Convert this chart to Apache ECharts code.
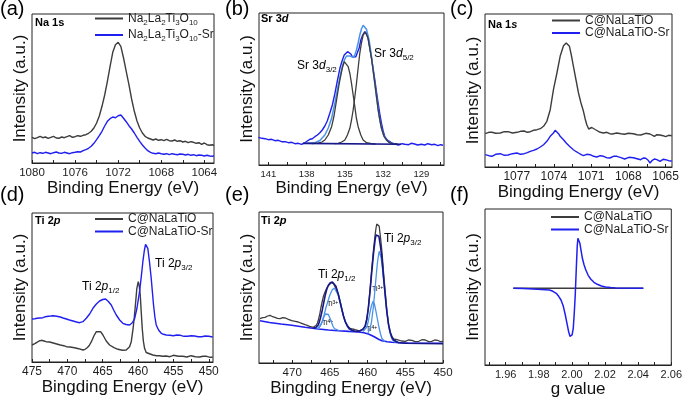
<!DOCTYPE html>
<html>
<head>
<meta charset="utf-8">
<script src="https://cdn.jsdelivr.net/npm/echarts@6/dist/echarts.min.js"></script>
<style>
  html, body { margin: 0; padding: 0; background: #fff; }
  #chart { width: 685px; height: 399px; }
</style>
</head>
<body>
<div id="chart"></div>
<script>
  // ---- data (x = binding energy / g value, y = intensity a.u.) ----
  const aPristine = [[1080,25.7],[1079.75,24.3],[1079.5,25.3],[1079.25,26.7],[1079,25.3],[1078.75,26],[1078.5,24.7],[1078.25,25.7],[1078,26.7],[1077.75,25],[1077.5,24.7],[1077.25,26],[1077,25.3],[1076.75,26.3],[1076.5,27.3],[1076.25,25.7],[1076,26.3],[1075.75,27.3],[1075.5,26.7],[1075.25,27.7],[1075,28.3],[1074.75,29.7],[1074.5,31.7],[1074.25,35],[1074,40],[1073.75,47],[1073.5,56.7],[1073.25,68],[1073,81.7],[1072.75,96.7],[1072.5,110.7],[1072.25,118.3],[1072,120.7],[1071.75,116.7],[1071.5,105],[1071.25,91.7],[1071,78.3],[1070.75,64],[1070.5,51.7],[1070.25,42],[1070,35],[1069.75,30],[1069.5,26.7],[1069.25,25],[1069,24],[1068.75,23],[1068.5,24],[1068.25,22.7],[1068,23.3],[1067.75,22.3],[1067.5,23.7],[1067.25,22.3],[1067,22],[1066.75,23],[1066.5,21.7],[1066.25,22.3],[1066,21],[1065.75,21.7],[1065.5,20.3],[1065.25,21.3],[1065,20.7],[1064.75,19.7],[1064.5,20.3],[1064.25,18.7],[1064,20],[1063.75,18.3],[1063.5,17.7],[1063.25,18.3],[1063.1,17.3]];
  const aSr = [[1080,10],[1079.75,10.7],[1079.5,9.3],[1079.25,10.3],[1079,9.7],[1078.75,10.7],[1078.5,10],[1078.25,9.3],[1078,10.3],[1077.75,11],[1077.5,10],[1077.25,9.7],[1077,10.7],[1076.75,10],[1076.5,9.3],[1076.25,10.3],[1076,10.7],[1075.75,11.3],[1075.5,11],[1075.25,12.3],[1075,13.3],[1074.75,14.7],[1074.5,16.7],[1074.25,19.7],[1074,23.3],[1073.75,27.3],[1073.5,31.7],[1073.25,37],[1073,41.7],[1072.75,44.3],[1072.5,46],[1072.25,45.3],[1072,47.3],[1071.75,48],[1071.5,44.7],[1071.25,41.3],[1071,37.3],[1070.75,34],[1070.5,30],[1070.25,25.7],[1070,21.7],[1069.75,18],[1069.5,15],[1069.25,12.3],[1069,10.7],[1068.75,9.7],[1068.5,9.3],[1068.25,10],[1068,9.3],[1067.75,8.7],[1067.5,9.3],[1067.25,8.3],[1067,9.3],[1066.75,8.7],[1066.5,8.3],[1066.25,9],[1066,8.7],[1065.75,8],[1065.5,8.7],[1065.25,7.7],[1065,8.3],[1064.75,7.3],[1064.5,8],[1064.25,7.7],[1064,7],[1063.75,7.7],[1063.5,7],[1063.25,6.7],[1063.1,7.3]];

  const bRaw = [[141.78,27.7],[141.5,26.7],[141.26,26.3],[141.0,25.3],[140.74,25.7],[140.48,24.3],[140.22,24.7],[139.95,23.3],[139.69,23.3],[139.43,22.3],[139.17,22.7],[138.91,21.3],[138.65,21.7],[138.39,20.7],[138.13,22.3],[137.95,24],[137.74,25.7],[137.55,26.3],[137.35,28.3],[137.15,30],[136.96,32.3],[136.77,35],[136.57,39],[136.38,44],[136.18,51.7],[135.98,60],[135.78,71.7],[135.59,84],[135.39,96.7],[135.22,104],[135.05,110],[134.92,112],[134.79,113.3],[134.66,112.3],[134.53,111],[134.4,108],[134.27,107.7],[134.14,108.3],[134.01,110],[133.88,117],[133.75,125],[133.6,130],[133.44,133.3],[133.3,131],[133.18,126.7],[133.05,117],[132.91,106.7],[132.78,96],[132.65,85],[132.52,73],[132.39,61.7],[132.26,51],[132.13,41.7],[132.0,34],[131.87,28.3],[131.68,25],[131.48,23.3],[131.29,21.7],[131.09,21],[130.8,20],[130.5,21.3],[130.31,20.7],[130.0,20.3],[129.8,21.7],[129.53,21],[129.3,20],[129.0,20.7],[128.74,20],[128.5,21.3],[128.2,20.3],[127.96,20.7],[127.7,19.3],[127.5,20.3],[127.31,19.7]];
  const bFit = [[138.13,21.7],[137.74,22],[137.35,22.3],[136.96,24.5],[136.57,30],[136.3,37],[136.04,46.7],[135.78,62],[135.52,80],[135.3,93],[135.13,101.7],[135.0,106],[134.87,109],[134.74,109.5],[134.61,109],[134.48,108],[134.35,107.7],[134.22,110],[134.09,115],[133.96,122],[133.83,130],[133.7,136],[133.57,139.7],[133.44,139],[133.31,135.7],[133.1,125],[132.91,108.3],[132.72,88],[132.52,68.3],[132.33,50],[132.13,36.7],[131.94,29],[131.74,25],[131.55,22.7],[131.35,21.7],[131.1,21.2],[130.83,21]];
  const bD32 = [[137.6,21.5],[137.09,21.9],[136.8,23],[136.57,25],[136.3,30],[136.04,38.3],[135.85,49],[135.65,65],[135.5,77],[135.39,85],[135.2,97],[135.05,103.3],[134.9,102.5],[134.74,98.3],[134.6,91],[134.48,81.7],[134.35,70],[134.22,58.3],[134.1,47],[133.96,38.3],[133.75,30],[133.57,25],[133.3,22.3],[132.91,21.3],[132.6,21]];
  const bD52 = [[135.8,21.3],[135.52,21.7],[135.25,23],[135.0,25],[134.8,30],[134.61,36.7],[134.48,45],[134.35,55],[134.22,68],[134.09,81.7],[133.96,97],[133.83,111.7],[133.7,122],[133.57,130],[133.39,133],[133.18,126.7],[133.05,117],[132.91,106.7],[132.78,94],[132.65,81.7],[132.52,68],[132.39,55],[132.26,45],[132.13,36.7],[131.94,29],[131.74,25],[131.5,22.3],[131.22,21.2],[130.9,21]];
  const bBase = [[138.3,21.6],[130.6,20.8]];

  const cPristine = [[1079.54,33.3],[1079.25,34.7],[1079.0,34.7],[1078.7,33.7],[1078.33,34],[1078.0,35.3],[1077.7,35.3],[1077.35,34],[1076.98,34.7],[1076.7,35.7],[1076.4,36],[1076.15,34.7],[1075.91,35.3],[1075.65,36.7],[1075.37,37.3],[1075.1,38.3],[1074.84,40.7],[1074.57,45.7],[1074.3,57.3],[1074.04,77.3],[1073.76,94],[1073.5,110.7],[1073.23,121.3],[1073.01,124],[1072.75,120.7],[1072.6,112],[1072.43,100.7],[1072.22,87],[1072.02,74],[1071.82,64],[1071.62,55.7],[1071.48,48],[1071.35,42.3],[1071.2,38],[1071.08,36.7],[1070.95,39.5],[1070.82,40.7],[1070.68,37.5],[1070.54,35.7],[1070.27,34.7],[1070.0,34],[1069.74,34.7],[1069.5,33.3],[1069.3,33],[1068.93,34],[1068.6,33.3],[1068.3,32.7],[1068.0,33.7],[1067.6,33.3],[1067.3,32.3],[1067.0,32],[1066.6,33.7],[1066.25,33],[1065.9,30.7],[1065.7,32.3],[1065.45,32],[1065.2,31.3],[1065.0,30.3],[1064.75,31.7],[1064.5,31.3]];
  const cSr = [[1079.54,12.3],[1079.25,11.3],[1079.0,10.7],[1078.7,12.7],[1078.33,13.3],[1078.0,11.7],[1077.7,12],[1077.35,13.3],[1076.98,14],[1076.7,12.7],[1076.4,13.3],[1076.15,14.3],[1075.91,15.7],[1075.65,16.7],[1075.37,18],[1075.1,20],[1074.84,22.3],[1074.57,25.7],[1074.3,30.7],[1074.04,34],[1073.9,36.7],[1073.76,34.7],[1073.63,33.3],[1073.5,30.7],[1073.23,27.3],[1073.01,24],[1072.75,20.7],[1072.43,17.3],[1072.2,15.3],[1072.02,14],[1071.8,12.3],[1071.62,11.3],[1071.35,12.7],[1071.08,12.3],[1070.8,10.7],[1070.54,10],[1070.27,11.3],[1070.0,10.7],[1069.75,9.3],[1069.5,9],[1069.2,10.7],[1068.93,10.7],[1068.6,9.3],[1068.3,8],[1067.95,9.7],[1067.6,9.3],[1067.3,8.3],[1067.0,7.3],[1066.8,9],[1066.6,8.7],[1066.4,6.7],[1066.25,4],[1066.1,6.3],[1065.9,8],[1065.7,7.3],[1065.45,5.7],[1065.2,7.7],[1065.0,7.3],[1064.75,6.3],[1064.5,6]];

  const dPristine = [[475.0,17],[474.6,18.3],[474.3,19.7],[474.0,21],[473.67,21.7],[473.3,21],[473.0,20.3],[472.5,20],[472.0,19],[471.5,18],[471.0,17],[470.5,16.3],[470.14,15.3],[469.6,15],[469.0,14.3],[468.4,13.3],[467.8,12],[467.5,12.7],[467.2,14.3],[466.9,16.5],[466.6,20.3],[466.25,26],[465.9,30.3],[465.68,32],[465.3,30.3],[464.97,27],[464.5,21],[464.03,17],[463.4,14.3],[462.85,12.7],[462.2,11.7],[461.67,12],[461.4,13],[461.2,15.3],[460.96,20.3],[460.7,33.7],[460.5,47],[460.3,63],[460.17,73.7],[459.97,80.3],[459.83,76],[459.69,67],[459.55,50],[459.41,33.7],[459.25,21],[459.08,13.7],[458.85,9.5],[458.6,7.7],[457.91,7],[457.4,6.3],[457.0,6.3],[456.5,5.7],[456.02,6],[455.5,5.3],[455.0,6.7],[454.3,5.7],[453.67,5.7],[453.1,5],[452.5,6.3],[451.9,5.3],[451.31,5],[450.8,5.7],[450.3,5.7],[449.8,4.7],[449.44,4.7]];
  const dSr = [[475.0,43],[474.6,43.3],[474.3,43.7],[473.9,44],[473.45,44.3],[473.1,45.3],[472.7,45.7],[472.35,46],[472.03,46.3],[471.5,45.7],[471.0,45],[470.6,44],[470.14,43],[469.7,42],[469.2,41],[468.7,40],[468.26,39.3],[467.8,40.3],[467.55,41.5],[467.32,43.7],[466.85,48],[466.38,53.7],[465.9,58],[465.44,61],[465.0,62.5],[464.59,63],[464.2,60.5],[463.79,57],[463.45,52],[463.08,47],[462.6,42],[462.15,38.7],[461.7,37.5],[461.2,37],[460.85,39],[460.5,43],[460.15,54],[459.79,70.3],[459.55,85],[459.32,100.3],[459.12,111],[458.94,117.7],[458.78,117],[458.62,113.7],[458.38,100],[458.14,83.7],[457.97,70],[457.81,57],[457.62,45],[457.43,37],[457.1,32],[456.72,28.7],[456.4,27.7],[456.02,27],[455.5,26.7],[455.0,26.3],[454.5,27],[454.0,26.7],[453.5,25.7],[453.0,25.7],[452.5,26.3],[452.0,26],[451.5,25.3],[451.0,25.3],[450.5,26],[450.0,25.7],[449.44,25]];

  const eRaw = [[474.27,44.3],[473.9,45.3],[473.6,45.7],[473.25,47],[472.94,47.7],[472.6,46.3],[472.28,45.7],[471.95,44.7],[471.6,44.3],[471.25,45.3],[470.9,45],[470.5,43.7],[470.06,42.3],[469.6,41.7],[469.2,41],[468.75,39.7],[468.29,38.3],[468.0,37.7],[467.7,36.7],[467.45,36.3],[467.19,35.7],[466.95,36.3],[466.8,37.7],[466.65,40],[466.52,43.3],[466.35,48.5],[466.2,55],[466.03,61],[465.86,66.7],[465.64,71],[465.41,75],[465.2,77.5],[465.0,79],[464.82,80.3],[464.67,80],[464.52,79.3],[464.4,78.3],[464.15,74],[463.87,68.3],[463.62,61],[463.4,53.3],[463.2,47],[462.98,41.7],[462.7,37.7],[462.4,35],[462.0,34],[461.65,33.3],[461.3,32.7],[461.0,32.3],[460.65,33.7],[460.33,36.7],[460.1,44],[459.9,55],[459.67,74],[459.44,95],[459.22,113],[459.0,128.3],[458.88,135],[458.78,139],[458.64,141],[458.46,136.7],[458.28,125],[458.1,111.7],[457.9,92],[457.67,71.7],[457.45,53],[457.22,38.3],[457.0,31],[456.78,26.7],[456.55,24],[456.3,22.3],[456.1,23.3],[455.89,23],[455.5,22],[455.0,21.7],[454.6,23],[454.12,22.7],[453.7,21.3],[453.2,21.7],[452.8,23.3],[452.35,23],[451.9,21.3],[451.5,21.7],[451.1,23],[450.7,22.7],[450.35,21.3],[450.0,21.7]];
  const eFit = [[467.19,34.7],[466.85,35.5],[466.52,38.3],[466.25,45],[466.0,53.3],[465.8,61],[465.6,68.3],[465.4,74],[465.2,77.7],[464.95,80.3],[464.67,81],[464.45,79.7],[464.2,76.7],[464.05,73],[463.87,68.3],[463.65,61],[463.4,53.3],[463.2,47],[462.98,41.7],[462.7,37.3],[462.4,34.3],[462.0,32.5],[461.65,31.7],[461.3,31.6],[461.0,32.3],[460.65,33.5],[460.33,36.7],[460.1,44],[459.9,55],[459.67,72],[459.44,91.7],[459.22,109],[459.0,123.3],[458.88,128],[458.78,130],[458.64,129.5],[458.5,126.7],[458.3,117],[458.1,105],[457.9,87],[457.67,68.3],[457.45,51],[457.22,38.3],[457.0,30.5],[456.78,25.7],[456.55,23],[456.3,21.7],[455.89,20.3],[455.0,19.7],[452.5,19.5],[450.0,19.3]];
  const eBack = [[474.27,42.3],[473.0,40.5],[471.5,39],[470.06,37.7],[468.3,35.8],[466.52,34],[465.2,33],[463.87,32.3],[462.5,31.6],[461.2,31],[460.5,30.3],[459.9,29],[459.45,27.5],[459.0,25.7],[458.55,23.8],[458.1,22.3],[457.4,21.2],[456.78,20.7],[455.5,20.2],[454.6,20],[452.3,19.8],[450.0,19.7]];
  const eTi4a = [[466.8,34],[466.5,35.5],[466.2,38],[466.0,41.5],[465.8,46],[465.6,49],[465.41,50],[465.2,48.5],[465.0,45],[464.8,41],[464.6,37],[464.4,34.5],[464.2,33],[463.8,32.3]];
  const eTi3a = [[466.6,34],[466.3,37],[466.0,42],[465.75,48.5],[465.5,56],[465.25,62],[465.0,68],[464.7,73],[464.4,75],[464.15,73],[463.9,68],[463.65,61],[463.4,53],[463.15,46],[462.9,40],[462.65,36],[462.4,33.5],[462.0,32]];
  const eTi4b = [[460.6,31.5],[460.35,33],[460.1,36],[459.9,42],[459.7,50],[459.5,57],[459.27,61.7],[459.1,59],[458.9,52],[458.7,44],[458.5,36],[458.3,29.5],[458.1,24.5],[457.9,22.5],[457.7,21.5]];
  const eTi3b = [[460.0,29.5],[459.75,33],[459.5,40],[459.25,55],[459.0,75],[458.85,88],[458.7,100],[458.55,108],[458.46,111.7],[458.33,110.5],[458.2,105],[458.05,96],[457.9,85],[457.7,70],[457.5,55],[457.3,43],[457.1,33],[456.9,27],[456.7,23],[456.5,21.5],[456.3,20.5]];

  const fPristine = [[1.9646,0],[2.0431,0]];
  const fSr = [[1.9646,0],[1.9705,-0.3],[1.9765,-0.7],[1.9815,-1.2],[1.9865,-1.7],[1.9885,-3],[1.9905,-5],[1.992,-8],[1.9934,-11.7],[1.9948,-18],[1.996,-26.7],[1.997,-35],[1.998,-43.3],[1.9988,-48],[1.9994,-49.3],[2.0001,-46.5],[2.0008,-40],[2.0014,-25],[2.002,-6.7],[2.0024,10],[2.0028,26.7],[2.0032,42],[2.0036,50],[2.0042,49],[2.0048,45],[2.0056,37],[2.0063,30],[2.0073,23.5],[2.0084,18.3],[2.0098,13],[2.0113,9.3],[2.0133,6],[2.0153,4],[2.0178,2.3],[2.0203,1.3],[2.0233,0.7],[2.0263,0.3],[2.0431,0]];

  // tick labels and tick marks
  const aLabels = [1080, 1076, 1072, 1068, 1064];
  const aTicks = [1080, 1078, 1076, 1074, 1072, 1070, 1068, 1066, 1064];
  const bLabels = [141, 138, 135, 132, 129];
  const bTicks = [141, 139.5, 138, 136.5, 135, 133.5, 132, 130.5, 129, 127.5];
  const cLabels = [1077, 1074, 1071, 1068, 1065];
  const cTicks = [1078.5, 1077, 1075.5, 1074, 1072.5, 1071, 1069.5, 1068, 1066.5, 1065];
  const dLabels = [475, 470, 465, 460, 455, 450];
  const dTicks = [475, 472.5, 470, 467.5, 465, 462.5, 460, 457.5, 455, 452.5, 450];
  const eLabels = [470, 465, 460, 455, 450];
  const eTicks = [472.5, 470, 467.5, 465, 462.5, 460, 457.5, 455, 452.5, 450];
  const fLabels = [1.96, 1.98, 2.00, 2.02, 2.04, 2.06];
  const fTicks = [1.95, 1.96, 1.97, 1.98, 1.99, 2.00, 2.01, 2.02, 2.03, 2.04, 2.05, 2.06];

  const nameA = ['Na2La2Ti3O10', 'Na2La2Ti3O10-Sr'];
  const nameC = ['C@NaLaTiO', 'C@NaLaTiO-Sr'];

  // ---- styles ----
  const FONT = 'Arial, "Liberation Sans", sans-serif';
  const INK = '#1e1e1e';
  const GRAY = '#3d3d3d';
  const BLUE = '#1f1ff0';
  const LIGHT = '#4a93ea';
  const NAVY = '#17178a';

  const rich = {
    n: { fontSize: 12, fontFamily: FONT, color: INK, lineHeight: 16 },
    i: { fontSize: 12, fontFamily: FONT, color: INK, fontStyle: 'italic', lineHeight: 16 },
    s: { fontSize: 8, fontFamily: FONT, color: INK, verticalAlign: 'bottom' },
    b: { fontSize: 11, fontFamily: FONT, color: '#000', fontWeight: 'bold' },
    bi: { fontSize: 11, fontFamily: FONT, color: '#000', fontWeight: 'bold', fontStyle: 'italic' },
    p: { fontSize: 20, fontFamily: FONT, color: '#000' },
    t: { fontSize: 7, fontFamily: FONT, color: '#444', lineHeight: 9 },
    u: { fontSize: 5, fontFamily: FONT, color: '#444', verticalAlign: 'top' }
  };

  const subFmt = (name) =>
    name.split(/(\d+)/).map((p, k) => (k % 2 ? '{s|' + p + '}' : p ? '{n|' + p + '}' : '')).join('');

  const grids = [
    { left: 32, top: 14, width: 182, height: 149 },
    { left: 259, top: 13, width: 185, height: 152 },
    { left: 485, top: 14, width: 187, height: 153 },
    { left: 32, top: 213, width: 181, height: 149 },
    { left: 259, top: 212, width: 184, height: 151 },
    { left: 485, top: 209, width: 188, height: 156 }
  ].map((g) => ({ ...g, show: true, borderColor: '#222', borderWidth: 1, containLabel: false }));

  const plain = (v) => String(v);
  const fmt2 = (v) => v.toFixed(2);

  function xAxis(i, min, max, inverse, name, labels, ticks, fs, fmt) {
    return {
      type: 'value', gridIndex: i, min, max, inverse,
      name, nameLocation: 'middle', nameGap: 11,
      nameTextStyle: { fontSize: 17, fontFamily: FONT, color: '#111' },
      axisLine: { show: true, onZero: false, lineStyle: { color: '#222', width: 1 } },
      axisTick: { show: true, inside: true, length: 3, customValues: ticks, lineStyle: { color: '#222' } },
      axisLabel: { show: true, customValues: labels, fontSize: fs, margin: 4, color: INK, fontFamily: FONT, formatter: fmt || plain },
      splitLine: { show: false }
    };
  }

  function yAxis(i, min, max) {
    return {
      type: 'value', gridIndex: i, min, max,
      name: 'Intensity (a.u.)', nameLocation: 'middle', nameGap: 3,
      nameTextStyle: { fontSize: 17, fontFamily: FONT, color: '#111' },
      axisLine: { show: false }, axisTick: { show: false }, axisLabel: { show: false }, splitLine: { show: false }
    };
  }

  function line(name, data, gi, color, width, z) {
    return {
      type: 'line', name, data, xAxisIndex: gi, yAxisIndex: gi,
      showSymbol: false, symbol: 'none', silent: true, z: z || 2,
      lineStyle: { color, width: width || 1.4 }, itemStyle: { color }
    };
  }

  function legend(left, top, names, gap, fmt) {
    return {
      data: names, left, top, orient: 'vertical', icon: 'rect',
      itemWidth: 28, itemHeight: 2, itemGap: gap, selectedMode: false, padding: 0,
      formatter: fmt,
      textStyle: { fontSize: 12, fontFamily: FONT, color: INK, rich }
    };
  }

  function txt(x, y, text) {
    return { type: 'text', x, y, silent: true, style: { text, rich, align: 'left', verticalAlign: 'top' } };
  }

  const option = {
    animation: false,
    backgroundColor: '#fff',
    grid: grids,
    xAxis: [
      xAxis(0, 1063.1, 1080, true, 'Binding Energy (eV)', aLabels, aTicks, 11.5),
      xAxis(1, 127.23, 141.73, true, 'Binding Energy (eV)', bLabels, bTicks, 9.5),
      xAxis(2, 1064.48, 1079.56, true, 'Bingding Energy (eV)', cLabels, cTicks, 12),
      xAxis(3, 449.4, 475, true, 'Bingding Energy (eV)', dLabels, dTicks, 12),
      xAxis(4, 450, 474.4, true, 'Bingding Energy (eV)', eLabels, eTicks, 11.5),
      xAxis(5, 1.9475, 2.06, false, 'g value', fLabels, fTicks, 11, fmt2)
    ],
    yAxis: [
      yAxis(0, 0, 149),
      yAxis(1, 0, 152),
      yAxis(2, 0, 153),
      yAxis(3, 0, 149),
      yAxis(4, 0, 151),
      yAxis(5, -76.7, 79.3)
    ],
    legend: [
      legend(95, 12.5, nameA, 2.5, subFmt),
      legend(552, 14.5, nameC, 0.5),
      legend(95, 213, nameC, 0.5),
      legend(551, 211, nameC, 0.5)
    ],
    series: [
      line(nameA[0], aPristine, 0, GRAY),
      line(nameA[1], aSr, 0, BLUE),

      line('Sr raw', bRaw, 1, BLUE, 1.4, 2),
      line('Sr fit', bFit, 1, LIGHT, 1.5, 3),
      line('Sr 3d3/2', bD32, 1, GRAY, 1.3, 4),
      line('Sr 3d5/2', bD52, 1, GRAY, 1.3, 4),
      line('Sr base', bBase, 1, NAVY, 1.6, 4),

      line(nameC[0], cPristine, 2, GRAY),
      line(nameC[1], cSr, 2, BLUE),

      line(nameC[0], dPristine, 3, GRAY),
      line(nameC[1], dSr, 3, BLUE),

      line('Ti raw', eRaw, 4, GRAY, 1.3, 2),
      line('Ti back', eBack, 4, BLUE, 1.6, 3),
      line('Ti4+ a', eTi4a, 4, LIGHT, 1.3, 3),
      line('Ti3+ a', eTi3a, 4, LIGHT, 1.3, 3),
      line('Ti4+ b', eTi4b, 4, LIGHT, 1.3, 3),
      line('Ti3+ b', eTi3b, 4, LIGHT, 1.3, 3),
      line('Ti fit', eFit, 4, NAVY, 1.6, 4),

      line(nameC[0], fPristine, 5, GRAY),
      line(nameC[1], fSr, 5, BLUE, 1.5, 3)
    ],
    graphic: [
      txt(0, -1, '{p|(a)}'),
      txt(225, -1, '{p|(b)}'),
      txt(450, -1, '{p|(c)}'),
      txt(0, 185, '{p|(d)}'),
      txt(225, 185, '{p|(e)}'),
      txt(450, 185, '{p|(f)}'),

      txt(35, 17, '{b|Na 1s}'),
      txt(261, 13, '{b|Sr 3}{bi|d}'),
      txt(488, 19, '{b|Na 1}{bi|s}'),
      txt(35, 215, '{b|Ti 2}{bi|p}'),
      txt(261, 215, '{b|Ti 2}{bi|p}'),

      txt(297, 58, '{n|Sr 3}{i|d}{s|3/2}'),
      txt(374, 46, '{n|Sr 3}{i|d}{s|5/2}'),
      txt(82, 279, '{n|Ti 2}{i|p}{s|1/2}'),
      txt(155, 256, '{n|Ti 2}{i|p}{s|3/2}'),
      txt(318, 267, '{n|Ti 2}{i|p}{s|1/2}'),
      txt(384, 231, '{n|Ti 2}{i|p}{s|3/2}'),

      txt(327, 300, '{t|Ti}{u|3+}'),
      txt(322, 319, '{t|Ti}{u|4+}'),
      txt(372, 285, '{t|Ti}{u|3+}'),
      txt(366, 325, '{t|Ti}{u|4+}')
    ]
  };

  const initChart = () => {
    const myChart = echarts.init(document.getElementById('chart'), null, { renderer: 'canvas' });
    window.addEventListener('resize', function () {
      myChart && myChart.resize();
    });
    option && myChart.setOption(option);
  };
  initChart();
</script>
</body>
</html>
